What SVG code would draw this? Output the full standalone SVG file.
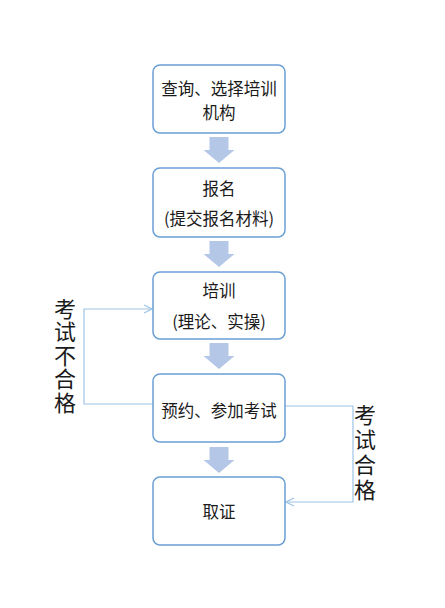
<svg xmlns="http://www.w3.org/2000/svg" width="445" height="608" viewBox="0 0 445 608">
<style>
.box{fill:#ffffff;stroke:#6a9fd4;stroke-width:1.5}
.t{font-family:"Noto Sans CJK SC","Microsoft YaHei",sans-serif;font-size:16.5px;fill:#1a1a1a;text-anchor:middle;dominant-baseline:central}
.lbl{font-family:"Noto Sans CJK SC",sans-serif;font-size:22px;fill:#1a1a1a;writing-mode:vertical-rl;text-anchor:start}
.blk{fill:#b4c7e7}
.con{fill:none;stroke:#9dc3e6;stroke-width:1.2}
</style>
<defs>
<marker id="open" markerWidth="10" markerHeight="10" refX="9" refY="5" orient="auto" markerUnits="userSpaceOnUse">
<path d="M1,1 L9,5 L1,9" fill="none" stroke="#9dc3e6" stroke-width="1.2"/>
</marker>
<path id="blkarrow" d="M-9.5,0 H9.5 V13 H15.5 L0,26 L-15.5,13 H-9.5 Z"/>
</defs>
<rect width="445" height="608" fill="#ffffff"/>
<g id="connectors">
<use href="#blkarrow" class="blk" x="219" y="137"/>
<use href="#blkarrow" class="blk" x="219" y="241"/>
<use href="#blkarrow" class="blk" x="219" y="343"/>
<use href="#blkarrow" class="blk" x="219" y="447"/>
<path class="con" d="M153,404 H84 V309 H152" marker-end="url(#open)"/>
<path class="con" d="M285,406 H353 V502 H286" marker-end="url(#open)"/>
</g>
<g id="node1">
<rect class="box" x="153" y="65" width="132" height="68" rx="7"/>
<text class="t" x="219" y="88">查询、选择培训</text>
<text class="t" x="219" y="112">机构</text>
</g>
<g id="node2">
<rect class="box" x="153" y="168" width="132" height="69" rx="7"/>
<text class="t" x="219" y="187.5">报名</text>
<text class="t" x="219" y="218">(提交报名材料)</text>
</g>
<g id="node3">
<rect class="box" x="153" y="272" width="132" height="67" rx="7"/>
<text class="t" x="219" y="290">培训</text>
<text class="t" x="219" y="320.5">(理论、实操)</text>
</g>
<g id="node4">
<rect class="box" x="153" y="374" width="132" height="68" rx="7"/>
<text class="t" x="219" y="409.5">预约、参加考试</text>
</g>
<g id="node5">
<rect class="box" x="153" y="477" width="132" height="68" rx="7"/>
<text class="t" x="219" y="510.5">取证</text>
</g>
<g id="label-fail">
<text class="lbl" x="65" y="297.5" letter-spacing="1.5">考试不合格</text>
</g>
<g id="label-pass">
<text class="lbl" x="365" y="404" letter-spacing="3">考试合格</text>
</g>
</svg>
